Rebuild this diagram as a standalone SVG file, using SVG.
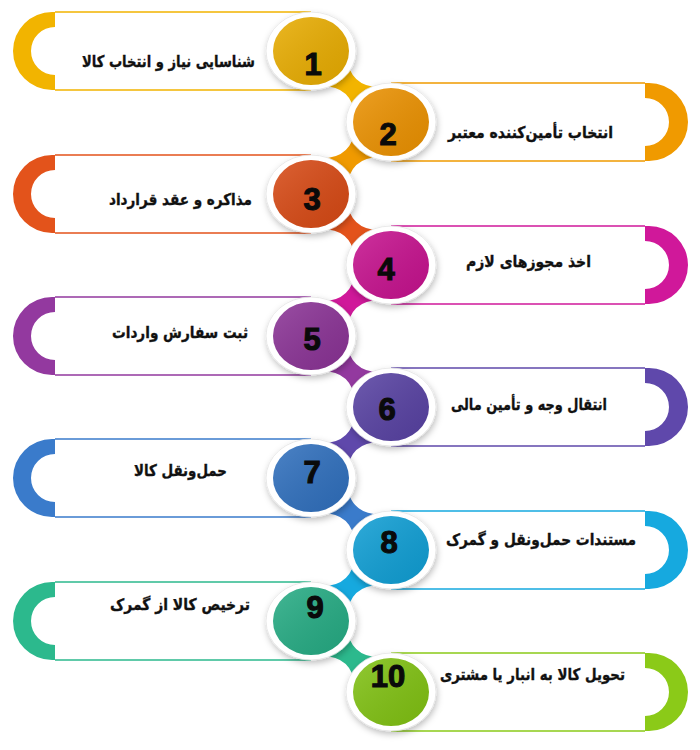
<svg xmlns="http://www.w3.org/2000/svg" xmlns:xlink="http://www.w3.org/1999/xlink" width="700" height="750" viewBox="0 0 700 750">
<defs>
<style>
.lbl{font-family:"DejaVu Sans","Noto Sans",sans-serif;font-weight:bold;font-size:16px;fill:#111;stroke:#111;stroke-width:0.35;text-anchor:end}
.num{font-family:"Liberation Sans",Arial,sans-serif;font-weight:bold;font-size:31px;fill:#0a0a0a;text-anchor:middle;stroke:#0a0a0a;stroke-width:1.1}
.band{fill:#fff}
.edge{fill:none;stroke-width:1.5}
.ring{fill:#fff;stroke:#e4e4e4;stroke-width:0.8;filter:url(#sh)}
.gl{fill:url(#gl)}
</style>
<filter id="sh" x="-30%" y="-30%" width="160%" height="170%">
<feDropShadow dx="1" dy="3" stdDeviation="3" flood-color="#000" flood-opacity="0.25"/>
</filter>
<linearGradient id="gl" x1="0" y1="0" x2="1" y2="1">
<stop offset="0" stop-color="#fff" stop-opacity="0.14"/>
<stop offset="1" stop-color="#000" stop-opacity="0.08"/>
</linearGradient>
<path id="link" d="M9.1 34.9 Q41.3 34.1 44.3 66.1 L70.9 36.3 Q38.7 37.1 35.7 5.1 Z"/>
</defs>
<rect width="700" height="750" fill="#fff"/>
<g id="connectors">
<use xlink:href="#link" href="#link" fill="#F2B400" transform="translate(311,51)"/>
<use xlink:href="#link" href="#link" fill="#F09A00" transform="translate(391,122) scale(-1,1)"/>
<use xlink:href="#link" href="#link" fill="#E3531B" transform="translate(311,194)"/>
<use xlink:href="#link" href="#link" fill="#D0189A" transform="translate(391,265) scale(-1,1)"/>
<use xlink:href="#link" href="#link" fill="#93399F" transform="translate(311,336)"/>
<use xlink:href="#link" href="#link" fill="#5F48AB" transform="translate(391,407) scale(-1,1)"/>
<use xlink:href="#link" href="#link" fill="#3A7BCB" transform="translate(311,478)"/>
<use xlink:href="#link" href="#link" fill="#16A9DF" transform="translate(391,550) scale(-1,1)"/>
<use xlink:href="#link" href="#link" fill="#2CB98D" transform="translate(311,621)"/>
</g>
<g id="step1">
<rect class="band" x="55" y="12" width="256" height="78"/>
<path class="edge" stroke="#F2B400" d="M55 12 H311 M55 90 H311"/>
<path fill="#F2B400" d="M55 12 H52 A39 39 0 0 0 52 90 H55 V75 A24 24 0 0 1 55 27 Z"/>
<ellipse class="ring" cx="311" cy="51" rx="45" ry="39"/>
<ellipse fill="#E8AC00" cx="311" cy="51" rx="38" ry="34"/>
<ellipse class="gl" cx="311" cy="51" rx="38" ry="34"/>
<text class="num" x="313" y="75">1</text>
<text class="lbl" x="255" y="67" textLength="173" lengthAdjust="spacingAndGlyphs">شناسایی نیاز و انتخاب کالا</text>
</g>
<g id="step2">
<rect class="band" x="391" y="83" width="254" height="78"/>
<path class="edge" stroke="#F09A00" d="M391 83 H645 M391 161 H645"/>
<path fill="#F09A00" d="M645 83 H649 A39 39 0 0 1 649 161 H645 V146 A24 24 0 0 0 645 98 Z"/>
<ellipse class="ring" cx="391" cy="122" rx="45" ry="39"/>
<ellipse fill="#EB9100" cx="391" cy="122" rx="38" ry="34"/>
<ellipse class="gl" cx="391" cy="122" rx="38" ry="34"/>
<text class="num" x="388" y="145">2</text>
<text class="lbl" x="613" y="138" textLength="165" lengthAdjust="spacingAndGlyphs">انتخاب تأمین&#8204;کننده معتبر</text>
</g>
<g id="step3">
<rect class="band" x="55" y="155" width="256" height="78"/>
<path class="edge" stroke="#E3531B" d="M55 155 H311 M55 233 H311"/>
<path fill="#E3531B" d="M55 155 H52 A39 39 0 0 0 52 233 H55 V218 A24 24 0 0 1 55 170 Z"/>
<ellipse class="ring" cx="311" cy="194" rx="45" ry="39"/>
<ellipse fill="#D74914" cx="311" cy="194" rx="38" ry="34"/>
<ellipse class="gl" cx="311" cy="194" rx="38" ry="34"/>
<text class="num" x="312" y="210">3</text>
<text class="lbl" x="252" y="205" textLength="143" lengthAdjust="spacingAndGlyphs">مذاکره و عقد قرارداد</text>
</g>
<g id="step4">
<rect class="band" x="391" y="226" width="254" height="78"/>
<path class="edge" stroke="#D0189A" d="M391 226 H645 M391 304 H645"/>
<path fill="#D0189A" d="M645 226 H649 A39 39 0 0 1 649 304 H645 V289 A24 24 0 0 0 645 241 Z"/>
<ellipse class="ring" cx="391" cy="265" rx="45" ry="39"/>
<ellipse fill="#C6118E" cx="391" cy="265" rx="38" ry="34"/>
<ellipse class="gl" cx="391" cy="265" rx="38" ry="34"/>
<text class="num" x="386" y="280">4</text>
<text class="lbl" x="591" y="267" textLength="125" lengthAdjust="spacingAndGlyphs">اخذ مجوزهای لازم</text>
</g>
<g id="step5">
<rect class="band" x="55" y="297" width="256" height="78"/>
<path class="edge" stroke="#93399F" d="M55 297 H311 M55 375 H311"/>
<path fill="#93399F" d="M55 297 H52 A39 39 0 0 0 52 375 H55 V360 A24 24 0 0 1 55 312 Z"/>
<ellipse class="ring" cx="311" cy="336" rx="45" ry="39"/>
<ellipse fill="#8A3295" cx="311" cy="336" rx="38" ry="34"/>
<ellipse class="gl" cx="311" cy="336" rx="38" ry="34"/>
<text class="num" x="312" y="350">5</text>
<text class="lbl" x="248" y="338" textLength="136" lengthAdjust="spacingAndGlyphs">ثبت سفارش واردات</text>
</g>
<g id="step6">
<rect class="band" x="391" y="368" width="254" height="78"/>
<path class="edge" stroke="#5F48AB" d="M391 368 H645 M391 446 H645"/>
<path fill="#5F48AB" d="M645 368 H649 A39 39 0 0 1 649 446 H645 V431 A24 24 0 0 0 645 383 Z"/>
<ellipse class="ring" cx="391" cy="407" rx="45" ry="39"/>
<ellipse fill="#5741A2" cx="391" cy="407" rx="38" ry="34"/>
<ellipse class="gl" cx="391" cy="407" rx="38" ry="34"/>
<text class="num" x="387" y="420">6</text>
<text class="lbl" x="607" y="410" textLength="156" lengthAdjust="spacingAndGlyphs">انتقال وجه و تأمین مالی</text>
</g>
<g id="step7">
<rect class="band" x="55" y="439" width="256" height="78"/>
<path class="edge" stroke="#3A7BCB" d="M55 439 H311 M55 517 H311"/>
<path fill="#3A7BCB" d="M55 439 H52 A39 39 0 0 0 52 517 H55 V502 A24 24 0 0 1 55 454 Z"/>
<ellipse class="ring" cx="311" cy="478" rx="45" ry="39"/>
<ellipse fill="#2F6FBD" cx="311" cy="478" rx="38" ry="34"/>
<ellipse class="gl" cx="311" cy="478" rx="38" ry="34"/>
<text class="num" x="312" y="483">7</text>
<text class="lbl" x="227" y="476" textLength="93" lengthAdjust="spacingAndGlyphs">حمل&#8204;ونقل کالا</text>
</g>
<g id="step8">
<rect class="band" x="391" y="511" width="254" height="78"/>
<path class="edge" stroke="#16A9DF" d="M391 511 H645 M391 589 H645"/>
<path fill="#16A9DF" d="M645 511 H649 A39 39 0 0 1 649 589 H645 V574 A24 24 0 0 0 645 526 Z"/>
<ellipse class="ring" cx="391" cy="550" rx="45" ry="39"/>
<ellipse fill="#0F9ED4" cx="391" cy="550" rx="38" ry="34"/>
<ellipse class="gl" cx="391" cy="550" rx="38" ry="34"/>
<text class="num" x="389" y="553">8</text>
<text class="lbl" x="636" y="545" textLength="190" lengthAdjust="spacingAndGlyphs">مستندات حمل&#8204;ونقل و گمرک</text>
</g>
<g id="step9">
<rect class="band" x="55" y="582" width="256" height="78"/>
<path class="edge" stroke="#2CB98D" d="M55 582 H311 M55 660 H311"/>
<path fill="#2CB98D" d="M55 582 H52 A39 39 0 0 0 52 660 H55 V645 A24 24 0 0 1 55 597 Z"/>
<ellipse class="ring" cx="311" cy="621" rx="45" ry="39"/>
<ellipse fill="#25AB83" cx="311" cy="621" rx="38" ry="34"/>
<ellipse class="gl" cx="311" cy="621" rx="38" ry="34"/>
<text class="num" x="315" y="618">9</text>
<text class="lbl" x="250" y="610" textLength="140" lengthAdjust="spacingAndGlyphs">ترخیص کالا از گمرک</text>
</g>
<g id="step10">
<rect class="band" x="391" y="653" width="254" height="78"/>
<path class="edge" stroke="#8BCA18" d="M391 653 H645 M391 731 H645"/>
<path fill="#8BCA18" d="M645 653 H649 A39 39 0 0 1 649 731 H645 V716 A24 24 0 0 0 645 668 Z"/>
<ellipse class="ring" cx="391" cy="692" rx="45" ry="39"/>
<ellipse fill="#80C112" cx="391" cy="692" rx="38" ry="34"/>
<ellipse class="gl" cx="391" cy="692" rx="38" ry="34"/>
<text class="num" x="388" y="687">10</text>
<text class="lbl" x="625" y="680" textLength="185" lengthAdjust="spacingAndGlyphs">تحویل کالا به انبار یا مشتری</text>
</g>
</svg>
